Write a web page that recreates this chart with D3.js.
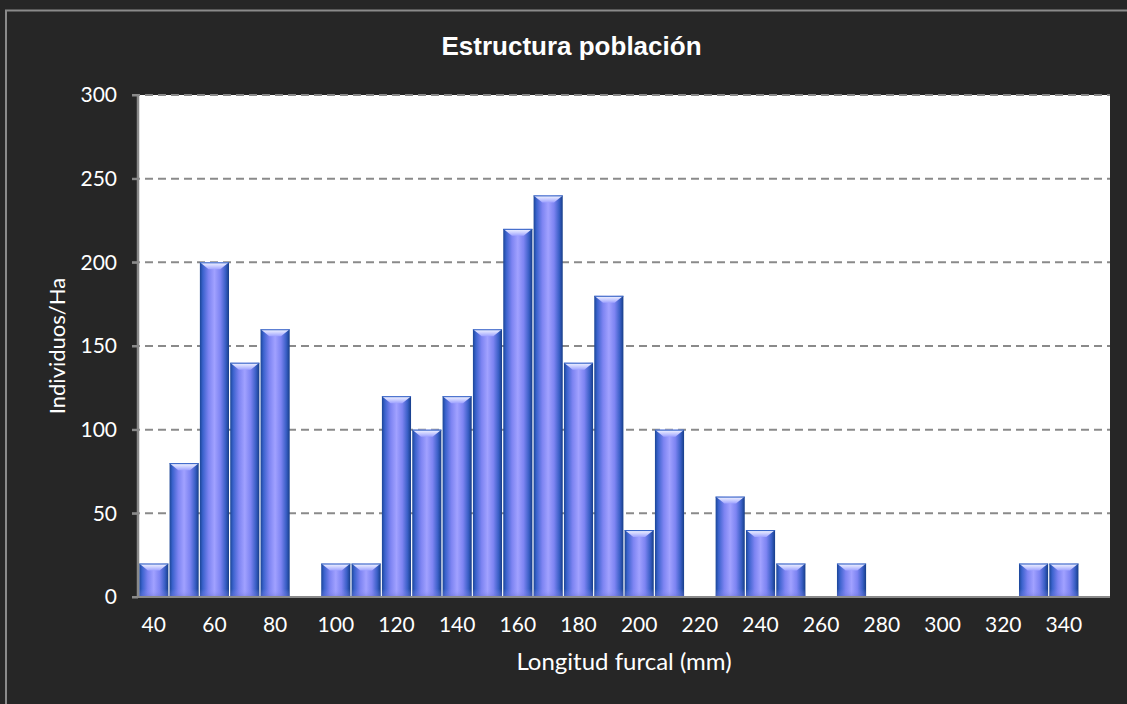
<!DOCTYPE html>
<html><head><meta charset="utf-8">
<script src="https://cdn.jsdelivr.net/npm/d3@7/dist/d3.min.js"></script>
<style>
html,body{margin:0;padding:0;background:#262626;}
svg{display:block;}
</style></head>
<body>
<script>
const categories = [40,50,60,70,80,90,100,110,120,130,140,150,160,170,180,190,200,210,220,230,240,250,260,270,280,290,300,310,320,330,340,350];
const values =     [20,80,200,140,160,0,20,20,120,100,120,160,220,240,140,180,40,100,0,60,40,20,0,20,0,0,0,0,0,20,20,0];
const xTickLabels = [40,60,80,100,120,140,160,180,200,220,240,260,280,300,320,340];
const yTicks = [0,50,100,150,200,250,300];
const chartTitle = "Estructura población";
const xTitle = "Longitud furcal (mm)";
const yTitle = "Individuos/Ha";

const W = 1127, H = 704;
const svg = d3.select("body").append("svg").attr("width", W).attr("height", H);
svg.append("rect").attr("x",0).attr("y",0).attr("width",W).attr("height",H).attr("fill","#262626");
svg.append("rect").attr("x",6).attr("y",10.5).attr("width",W+10).attr("height",H+10)
  .attr("fill","#262626").attr("stroke","#8a8a8a").attr("stroke-width",2);

const pLeft = 138, pRight = 1110, pTop = 95, pBottom = 597;
const x = d3.scaleBand().domain(categories).range([pLeft, pRight]).paddingInner(0.04).paddingOuter(0.04);
const y = d3.scaleLinear().domain([0,300]).range([pBottom, pTop]);

const defs = svg.append("defs");
const hg = defs.append("linearGradient").attr("id","hg").attr("x1","0").attr("x2","1").attr("y1","0").attr("y2","0");
[[0,"#1a4596"],[0.1,"#3a62cc"],[0.3,"#7d84f2"],[0.5,"#a1a1ff"],[0.7,"#7d84f2"],[0.88,"#3a5fc6"],[1,"#153d88"]]
  .forEach(([o,c])=>hg.append("stop").attr("offset",o).attr("stop-color",c));
const cg = defs.append("linearGradient").attr("id","cg").attr("x1","0").attr("x2","0").attr("y1","0").attr("y2","1");
[[0,"#f6f7ff"],[0.5,"#ccd0ff"],[1,"#9ea2ff"]].forEach(([o,c])=>cg.append("stop").attr("offset",o).attr("stop-color",c));
const bg = defs.append("linearGradient").attr("id","bg").attr("x1","0").attr("x2","0").attr("y1","0").attr("y2","1");
[[0,"#9ea2ff",0],[1,"#6a70d8",0.5]].forEach(([o,c,op])=>bg.append("stop").attr("offset",o).attr("stop-color",c).attr("stop-opacity",op));

// plot area
svg.append("rect").attr("x",pLeft).attr("y",pTop).attr("width",pRight-pLeft).attr("height",pBottom-pTop).attr("fill","#ffffff");

// gridlines
svg.append("g").selectAll("line").data(yTicks.filter(d=>d>0)).join("line")
  .attr("x1",pLeft-6).attr("x2",pRight).attr("y1",d=>y(d)).attr("y2",d=>y(d))
  .attr("stroke","#8a8a8a").attr("stroke-width",2).attr("stroke-dasharray","8,5");

// bars
const data = categories.map((c,i)=>({c, v: values[i]})).filter(d=>d.v>0);
const bars = svg.append("g").selectAll("g").data(data).join("g");
bars.append("rect")
  .attr("x",d=>x(d.c)).attr("y",d=>y(d.v)).attr("width",x.bandwidth()).attr("height",d=>y(0)-y(d.v))
  .attr("fill","url(#hg)");
bars.append("path")
  .attr("d",d=>{
    const x0 = x(d.c), x1 = x0 + x.bandwidth(), t = y(d.v), h = 7, ins = x.bandwidth()*0.3;
    return `M${x0},${t}L${x1},${t}L${x1-ins},${t+h}L${x0+ins},${t+h}Z`;
  })
  .attr("fill","url(#cg)");
bars.append("line")
  .attr("x1",d=>x(d.c)).attr("x2",d=>x(d.c)+x.bandwidth()).attr("y1",d=>y(d.v)+0.5).attr("y2",d=>y(d.v)+0.5)
  .attr("stroke","#2d5cc4").attr("stroke-width",1);
bars.append("rect")
  .attr("x",d=>x(d.c)).attr("y",y(0)-8).attr("width",x.bandwidth()).attr("height",8)
  .attr("fill","url(#bg)");

// axes lines
svg.append("line").attr("x1",pLeft).attr("x2",pLeft).attr("y1",pTop).attr("y2",pBottom)
  .attr("stroke","#8a8a8a").attr("stroke-width",2.5);
svg.append("line").attr("x1",pLeft-6).attr("x2",pRight).attr("y1",pBottom).attr("y2",pBottom)
  .attr("stroke","#8a8a8a").attr("stroke-width",2);

// y axis
const yAxis = d3.axisLeft(y).tickValues(yTicks).tickSize(6).tickPadding(15);
const gy = svg.append("g").attr("transform",`translate(${pLeft},0)`).call(yAxis);
gy.select(".domain").remove();
gy.selectAll(".tick line").attr("stroke","#8a8a8a").attr("stroke-width",2);
gy.selectAll(".tick text").attr("fill","#ffffff").style("font-family","Lato, 'Open Sans', sans-serif").style("font-size","21px");

// x axis
const xAxis = d3.axisBottom(x).tickValues(xTickLabels).tickSize(0).tickPadding(20);
const gx = svg.append("g").attr("transform",`translate(0,${pBottom})`).call(xAxis);
gx.select(".domain").remove();
gx.selectAll(".tick text").attr("fill","#ffffff").style("font-family","Lato, 'Open Sans', sans-serif").style("font-size","21px");

// titles
svg.append("text").attr("x",571.5).attr("y",55).attr("text-anchor","middle")
  .attr("fill","#ffffff").style("font-family","'Liberation Sans', Arial, sans-serif").style("font-weight","bold").style("font-size","26px")
  .text(chartTitle);
svg.append("text").attr("x",(pLeft+pRight)/2).attr("y",670).attr("text-anchor","middle")
  .attr("fill","#ffffff").style("font-family","Lato, 'Open Sans', sans-serif").style("font-size","24px")
  .text(xTitle);
svg.append("text").attr("transform","translate(65,346) rotate(-90)").attr("text-anchor","middle")
  .attr("fill","#ffffff").style("font-family","Lato, 'Open Sans', sans-serif").style("font-size","22px")
  .text(yTitle);
</script>
</body></html>
